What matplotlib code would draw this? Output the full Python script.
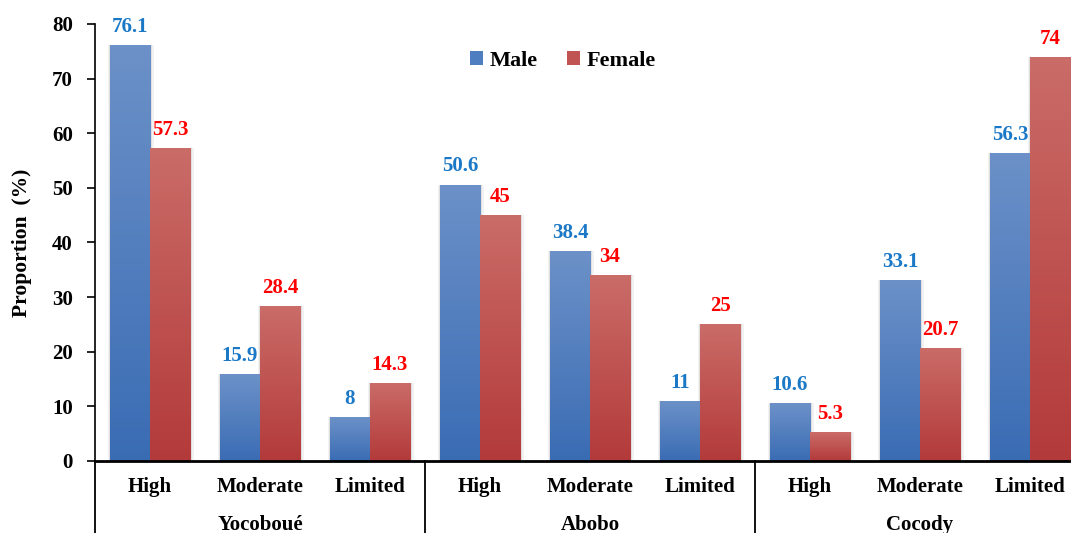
import numpy as np
import matplotlib
matplotlib.use("Agg")
import matplotlib.pyplot as plt
from matplotlib.colors import LinearSegmentedColormap
from matplotlib.patches import Rectangle, Patch

groups = ["Yocoboué", "Abobo", "Cocody"]
levels = ["High", "Moderate", "Limited"]
male = [76.1, 15.9, 8, 50.6, 38.4, 11, 10.6, 33.1, 56.3]
female = [57.3, 28.4, 14.3, 45, 34, 25, 5.3, 20.7, 74]
male_labels = ["76.1", "15.9", "8", "50.6", "38.4", "11", "10.6", "33.1", "56.3"]
female_labels = ["57.3", "28.4", "14.3", "45", "34", "25", "5.3", "20.7", "74"]

plt.rcParams['font.family'] = ['Liberation Serif', 'DejaVu Serif']
plt.rcParams['font.weight'] = 'bold'

W, H = 1071, 533
fig = plt.figure(figsize=(W / 100, H / 100), dpi=100)
left_px, right_px, top_px, bot_px = 95, 1085, 24, 461
ax = fig.add_axes([left_px / W, (H - bot_px) / H, (right_px - left_px) / W, (bot_px - top_px) / H])

n = len(male)
x = np.arange(n)
bw = 0.364

blue_cmap = LinearSegmentedColormap.from_list("b", ["#3A6CB4", "#6C91C8"])
red_cmap = LinearSegmentedColormap.from_list("r", ["#B33A3A", "#CA6C68"])
grad = np.linspace(0, 1, 256).reshape(-1, 1)

def gbar(xc, h, cmap):
    x0 = xc - bw / 2
    for k, a in [(0.035, 0.05), (0.02, 0.07)]:
        sh = Rectangle((x0 - k * 0.5, 0), bw + k * 1.5, h, facecolor="#000000", alpha=a,
                       edgecolor="none", zorder=1)
        ax.add_patch(sh)
    im = ax.imshow(grad, extent=[x0, x0 + bw, 0, h], origin="lower", cmap=cmap, aspect="auto", zorder=2)
    r = Rectangle((x0, 0), bw, h, facecolor="none", edgecolor="none", zorder=2)
    ax.add_patch(r)
    im.set_clip_path(r)

for i in range(n):
    gbar(x[i] - bw / 2, male[i], blue_cmap)
    gbar(x[i] + bw / 2, female[i], red_cmap)
    ax.text(x[i] - bw / 2, male[i] + 1.5, male_labels[i], ha="center", va="bottom",
            color="#1A78C6", fontsize=15, fontweight="bold")
    ax.text(x[i] + bw / 2, female[i] + 1.5, female_labels[i], ha="center", va="bottom",
            color="#FF0000", fontsize=15, fontweight="bold")

ax.set_xlim(-0.5, n - 0.5)
ax.set_ylim(0, 80)
ax.set_yticks(np.arange(0, 81, 10))
ax.tick_params(axis="y", labelsize=15, length=6, width=1.2, direction="out", pad=10)
for lab in ax.get_yticklabels():
    lab.set_fontweight("bold")
ax.set_xticks([])
ax.spines["top"].set_visible(False)
ax.spines["right"].set_visible(False)
ax.spines["left"].set_linewidth(1.2)
ax.spines["bottom"].set_linewidth(2)
ax.set_ylabel("Proportion  (%)", fontsize=15.5, fontweight="bold")
ax.yaxis.set_label_coords(-(left_px - 32) / (right_px - left_px), 0.5)

trans = ax.get_xaxis_transform()
for i in range(n):
    ax.text(x[i], -(487 - bot_px) / (bot_px - top_px), levels[i % 3], transform=trans, ha="center", va="center",
            fontsize=15, fontweight="bold")
for g in range(3):
    ax.text(3 * g + 1, -(525 - bot_px) / (bot_px - top_px), groups[g], transform=trans, ha="center", va="center",
            fontsize=15, fontweight="bold")
for xs in [-0.5, 2.5, 5.5]:
    ax.plot([xs, xs], [0, -0.25], transform=trans, color="black", lw=1.3, clip_on=False)

handles = [Patch(facecolor="#4F7EC0", label="Male"), Patch(facecolor="#C05452", label="Female")]
leg = ax.legend(handles=handles, loc="center",
                bbox_to_anchor=((563 - left_px) / (right_px - left_px), (bot_px - 61) / (bot_px - top_px)),
                ncol=2, frameon=False, fontsize=16, handlelength=0.6, handleheight=0.6,
                handletextpad=0.3, columnspacing=1.3)
for t in leg.get_texts():
    t.set_fontweight("bold")

fig.savefig("out.png", dpi=100)
